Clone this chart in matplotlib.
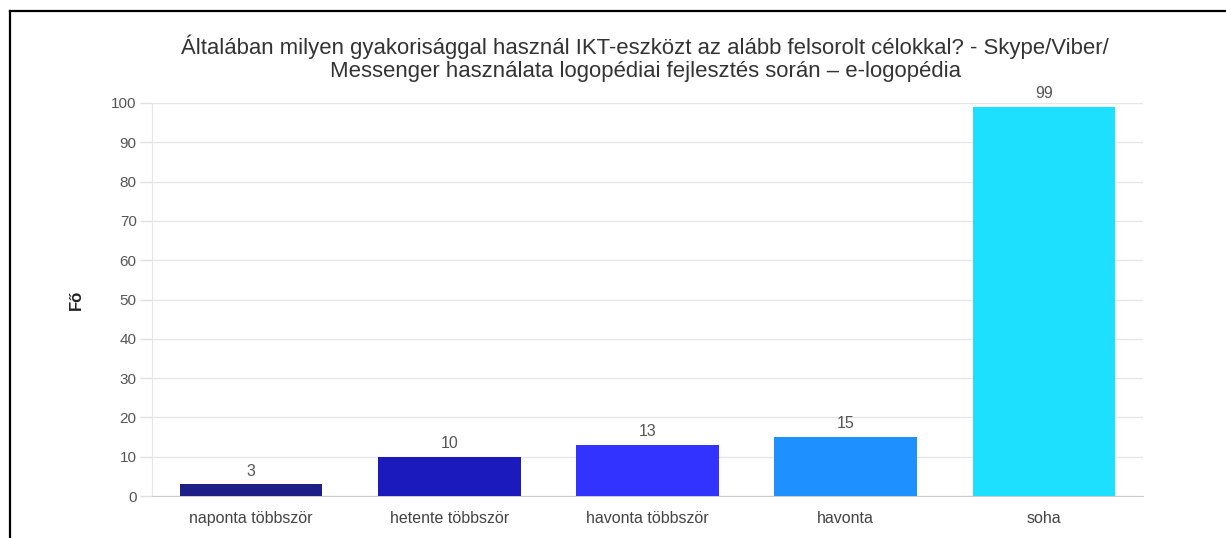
import matplotlib.pyplot as plt
from matplotlib.lines import Line2D

# Data
categories = ['naponta többször', 'hetente többször', 'havonta többször', 'havonta', 'soha']
values = [3, 10, 13, 15, 99]
colors = ['#1c1f85', '#1a1abd', '#3333ff', '#1e90ff', '#1ddfff']
y_ticks = [0, 10, 20, 30, 40, 50, 60, 70, 80, 90, 100]

title = ('Általában milyen gyakorisággal használ IKT-eszközt az alább felsorolt célokkal? - Skype/Viber/\n'
         'Messenger használata logopédiai fejlesztés során – e-logopédia')

plt.rcParams['font.family'] = ['Liberation Sans', 'DejaVu Sans']

fig = plt.figure(figsize=(12.26, 5.38), dpi=100)
ax = fig.add_axes([152 / 1226, 1 - 496 / 538, (1143 - 152) / 1226, (496 - 103) / 538])

x = list(range(len(categories)))
ax.bar(x, values, width=0.72, color=colors, zorder=3)

# value labels above the bars
for xi, v in zip(x, values):
    ax.annotate(str(v), (xi, v), xytext=(0, 4), textcoords='offset points',
                ha='center', va='bottom', fontsize=11.5, color='#555555')

ax.set_xlim(-0.5, len(categories) - 0.5)
ax.set_ylim(0, 100)
ax.set_yticks(y_ticks)
ax.set_xticks(x)
ax.set_xticklabels(categories, fontsize=11.5, color='#444444')
ax.tick_params(axis='y', labelsize=11, labelcolor='#555555', color='#e0e0e0', length=9, width=1, pad=2)
ax.tick_params(axis='x', length=0, pad=11)
ax.grid(axis='y', color='#e6e6e6', linewidth=1, zorder=0)

for side in ['top', 'right']:
    ax.spines[side].set_visible(False)
ax.spines['left'].set_color('#e6e6e6')
ax.spines['bottom'].set_color('#cccccc')

ax.set_ylabel('Fő', fontsize=12, fontweight='bold', color='#222222', labelpad=20)

fig.text(645 / 1226, 1 - 58 / 538, title, ha='center', va='center',
         fontsize=15.9, color='#333333', linespacing=1.1)

# frame lines (top and left edge of the screenshot)
fig.add_artist(Line2D([10 / 1226, 1], [1 - 11 / 538, 1 - 11 / 538], color='black', linewidth=1.6,
                      transform=fig.transFigure))
fig.add_artist(Line2D([10 / 1226, 10 / 1226], [0, 1 - 11 / 538], color='black', linewidth=1.6,
                      transform=fig.transFigure))

fig.savefig('out.png', dpi=100)
